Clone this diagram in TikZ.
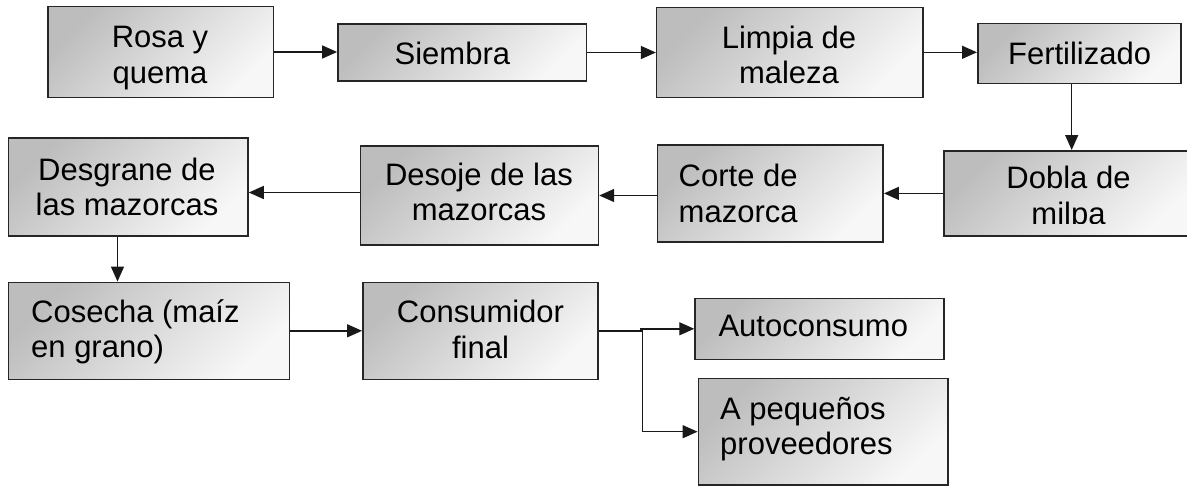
\documentclass[tikz,border=0pt]{standalone}
\usepackage{fontspec}
\setmainfont{Liberation Sans}
\usetikzlibrary{arrows.meta}
\newcommand{\mystrut}{\rule{0pt}{24pt}}
\tikzset{
  box/.style={draw=black!85, line width=1.5pt, top color=black!26, bottom color=black!3, shading angle=45, inner sep=0pt},
  lbl/.style={inner sep=0pt, font={\fontsize{31}{35.5}\selectfont}, text=black},
  arr/.style={draw=black!90, line width=1.4pt, -{Triangle[length=15pt,width=13pt]}},
}
\begin{document}
\begin{tikzpicture}[x=1pt,y=-1pt]
\useasboundingbox (0,0) rectangle (1187,487);
% boxes
\node[box, minimum width=225.8pt, minimum height=90.6pt] (rosa) at (160.7,52) {};
\node[box, minimum width=248.8pt, minimum height=57pt] (siembra) at (462.3,52.5) {};
\node[box, minimum width=266.6pt, minimum height=90pt] (limpia) at (789.9,52.3) {};
\node[box, minimum width=203.3pt, minimum height=60pt] (fert) at (1079.4,53.3) {};
\node[box, minimum width=247.8pt, minimum height=85.3pt] (dobla) at (1068.1,193.4) {};
\node[box, minimum width=225.8pt, minimum height=96.7pt] (corte) at (770.3,193.4) {};
\node[box, minimum width=237.9pt, minimum height=99pt] (desoje) at (479.5,195.5) {};
\node[box, minimum width=239.6pt, minimum height=98.3pt] (desgrane) at (128.2,186.9) {};
\node[box, minimum width=280.9pt, minimum height=97pt] (cosecha) at (148.9,330.8) {};
\node[box, minimum width=235.2pt, minimum height=97pt] (consumidor) at (480.4,330.8) {};
\node[box, minimum width=249.2pt, minimum height=61pt] (auto) at (819.6,328.8) {};
\node[box, minimum width=249.7pt, minimum height=106.7pt] (peq) at (823.2,431.7) {};
% labels
\node[lbl, align=center, anchor=north] (trosa) at (160,23.5) {\mystrut Rosa y\\quema};
\node[lbl, anchor=base] (tsiembra) at (452.4,64.3) {Siembra};
\node[lbl, align=center, anchor=north] (tlimpia) at (789,24.3) {\mystrut Limpia de\\maleza};
\node[lbl, anchor=base] (tfert) at (1079.6,65) {Fertilizado};
\begin{scope}
\clip (dobla.north west) rectangle (1187,223);
\node[lbl, align=center, anchor=north] (tdobla) at (1068.5,164.3) {\mystrut Dobla de\\milpa};
\end{scope}
\node[lbl, align=left, anchor=north west] (tcorte) at (678.5,162.7) {\mystrut Corte de\\mazorca};
\node[lbl, align=center, anchor=north] (tdesoje) at (479,161) {\mystrut Desoje de las\\mazorcas};
\node[lbl, align=center, anchor=north] (tdesgrane) at (127,156) {\mystrut Desgrane de\\las mazorcas};
\node[lbl, align=left, anchor=north west] (tcosecha) at (31,298) {\mystrut Cosecha (maíz\\en grano)};
\node[lbl, align=center, anchor=north] (tconsumidor) at (480.5,298.5) {\mystrut Consumidor\\final};
\node[lbl, anchor=base west] (tauto) at (718.3,336) {Autoconsumo};
\node[lbl, align=left, anchor=north west] (tpeq) at (720,395) {\mystrut A pequeños\\proveedores};
% connectors
\draw[arr] (rosa.east) -- (rosa.east -| siembra.west);
\draw[arr] (siembra.east) -- (siembra.east -| limpia.west);
\draw[arr] (limpia.east) -- (limpia.east -| fert.west);
\draw[arr] ([xshift=-7.7pt]fert.south) -- ([xshift=-7.7pt]fert.south |- dobla.north);
\draw[arr] (dobla.west) -- (dobla.west -| corte.east);
\draw[arr] (corte.west |- desoje.east) -- (desoje.east);
\draw[arr] ([yshift=3pt]desoje.west) -- ([yshift=3pt]desoje.west -| desgrane.east);
\draw[arr] ([xshift=-10.7pt]desgrane.south) -- ([xshift=-10.7pt]desgrane.south |- cosecha.north);
\draw[arr] (cosecha.east) -- (cosecha.east -| consumidor.west);
\coordinate (j) at (641,0);
\draw[arr] (consumidor.east) -- (consumidor.east -| j) -- (j |- auto.west) -- (auto.west);
\draw[arr] ([xshift=1.5pt]j |- auto.west) |- (peq.west);
\end{tikzpicture}
\end{document}
